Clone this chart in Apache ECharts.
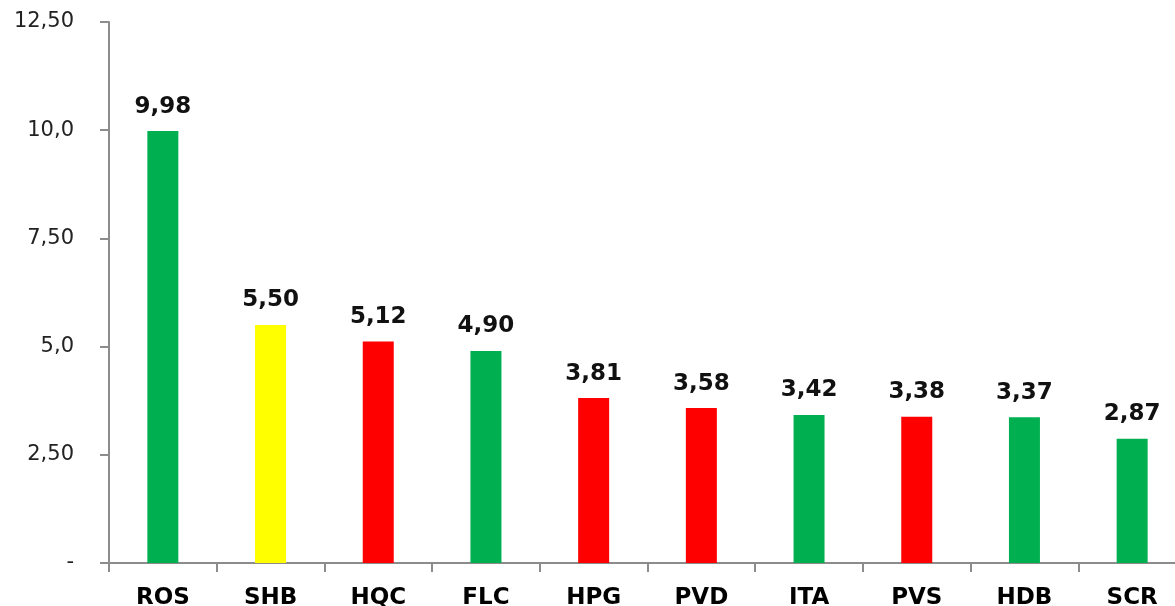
<!DOCTYPE html>
<html>
<head>
<meta charset="utf-8">
<script src="https://cdn.jsdelivr.net/npm/echarts@6/dist/echarts.min.js"></script>
<style>
  html, body { margin: 0; padding: 0; background: #fff; }
  #main { width: 1175px; height: 606px; }
</style>
</head>
<body>
<div id="main"></div>
<script>
// ma co phieu
var categories = ['ROS', 'SHB', 'HQC', 'FLC', 'HPG', 'PVD', 'ITA', 'PVS', 'HDB', 'SCR'];
var values = [9.98, 5.50, 5.12, 4.90, 3.81, 3.58, 3.42, 3.38, 3.37, 2.87];
var barColors = ['#00B050', '#FFFF00', '#FF0000', '#00B050', '#FF0000', '#FF0000', '#00B050', '#FF0000', '#00B050', '#00B050'];
var yTickValues = [0, 2.5, 5, 7.5, 10, 12.5];
var yTickLabels = ['-', '2,50', '5,0', '7,50', '10,0', '12,50'];

var myChart = echarts.init(document.getElementById('main'));
var axisColor = '#8c8c8c';
var fontFam = '"DejaVu Sans", Verdana, sans-serif';

var option = {
    animation: false,
    grid: {
        left: 109,
        width: 1077,
        top: 22,
        bottom: 43,
        outerBoundsMode: 'none',
        containLabel: false
    },
    xAxis: {
        type: 'category',
        data: categories,
        axisLine: { lineStyle: { color: axisColor, width: 2 } },
        axisTick: { show: true, length: 9, lineStyle: { color: axisColor, width: 2 } },
        axisLabel: {
            margin: 24,
            color: '#000',
            fontWeight: 'bold',
            fontSize: 23,
            fontFamily: fontFam
        }
    },
    yAxis: {
        type: 'value',
        min: 0,
        max: 12.5,
        interval: 2.5,
        splitLine: { show: false },
        axisLine: { show: true, lineStyle: { color: axisColor, width: 2 } },
        axisTick: { show: true, length: 9, lineStyle: { color: axisColor, width: 2 } },
        axisLabel: {
            margin: 35,
            color: '#222',
            fontSize: 21,
            fontFamily: fontFam,
            formatter: function (v) {
                var i = yTickValues.indexOf(v);
                return i >= 0 ? yTickLabels[i] : '';
            }
        }
    },
    series: [
        {
            type: 'bar',
            barWidth: 31,
            data: values.map(function (v, i) {
                return { value: v, itemStyle: { color: barColors[i] } };
            }),
            label: {
                show: true,
                position: 'top',
                distance: 13,
                color: '#111',
                fontWeight: 'bold',
                fontSize: 23,
                fontFamily: fontFam,
                formatter: function (p) {
                    return p.value.toFixed(2).replace('.', ',');
                }
            }
        }
    ]
};
myChart.setOption(option);
</script>
</body>
</html>
